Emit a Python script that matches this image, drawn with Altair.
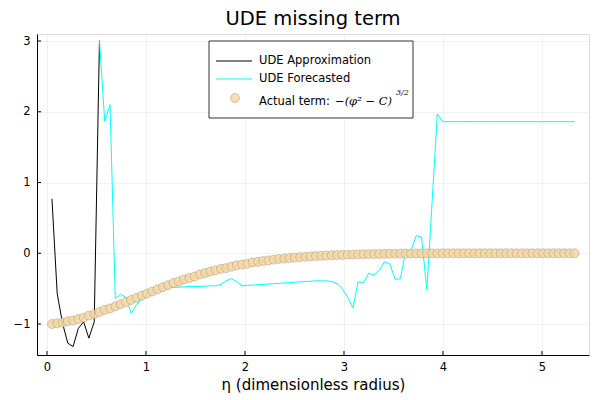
import altair as alt
import pandas as pd

# ---- data ----
eta = [0.050, 0.103, 0.157, 0.210, 0.263, 0.317, 0.370, 0.423, 0.477, 0.530,
       0.583, 0.637, 0.690, 0.743, 0.797, 0.850, 0.903, 0.957, 1.010, 1.063,
       1.117, 1.170, 1.223, 1.277, 1.330, 1.383, 1.437, 1.490, 1.543, 1.597,
       1.650, 1.703, 1.757, 1.810, 1.863, 1.917, 1.970, 2.023, 2.077, 2.130,
       2.183, 2.237, 2.290, 2.343, 2.397, 2.450, 2.503, 2.557, 2.610, 2.663,
       2.717, 2.770, 2.823, 2.877, 2.930, 2.983, 3.037, 3.090, 3.143, 3.197,
       3.250, 3.303, 3.357, 3.410, 3.463, 3.517, 3.570, 3.623, 3.677, 3.730,
       3.783, 3.837, 3.890, 3.943, 3.997, 4.050, 4.103, 4.157, 4.210, 4.263,
       4.317, 4.370, 4.423, 4.477, 4.530, 4.583, 4.637, 4.690, 4.743, 4.797,
       4.850, 4.903, 4.957, 5.010, 5.063, 5.117, 5.170, 5.223, 5.277, 5.330]

actual_term = [-1.00, -0.99, -0.98, -0.96, -0.95, -0.93, -0.91, -0.88, -0.86, -0.83,
               -0.80, -0.78, -0.75, -0.72, -0.69, -0.66, -0.63, -0.60, -0.57, -0.54,
               -0.51, -0.48, -0.45, -0.42, -0.40, -0.37, -0.35, -0.33, -0.30, -0.28,
               -0.26, -0.24, -0.22, -0.21, -0.19, -0.17, -0.16, -0.15, -0.13, -0.12,
               -0.11, -0.10, -0.09, -0.08, -0.075, -0.068, -0.061, -0.055, -0.05, -0.045,
               -0.04, -0.036, -0.032, -0.028, -0.025, -0.023, -0.02, -0.018, -0.016, -0.014,
               -0.012, -0.011, -0.01, -0.008, -0.007, -0.006, -0.005, -0.004, -0.004, -0.003,
               -0.003, -0.002, -0.002, -0.002, -0.001, 0.0, 0.0, 0.0, 0.0, 0.0,
               0.0, 0.0, 0.0, 0.0, 0.0, 0.0, 0.0, 0.0, 0.0, 0.0,
               0.0, 0.0, 0.0, 0.0, 0.0, 0.0, 0.0, 0.0, 0.0, 0.0]

# UDE approximation: first 10 grid points (training range)
ude_approx = [0.77, -0.57, -0.99, -1.27, -1.32, -1.06, -0.97, -1.20, -0.97, 3.01]

# UDE forecast: grid points 9..99
ude_forecast = [3.01, 1.87, 2.10, -0.64, -0.58, -0.62, -0.85, -0.73, -0.64, -0.58,
                -0.55, -0.52, -0.50, -0.49, -0.48, -0.48, -0.475, -0.47, -0.47, -0.47,
                -0.465, -0.46, -0.46, -0.44, -0.39, -0.36, -0.40, -0.46, -0.455, -0.45,
                -0.445, -0.44, -0.435, -0.43, -0.425, -0.42, -0.415, -0.41, -0.405, -0.40,
                -0.395, -0.39, -0.39, -0.39, -0.40, -0.43, -0.50, -0.62, -0.77, -0.40,
                -0.42, -0.28, -0.31, -0.24, -0.12, -0.15, -0.37, -0.36, 0.04, 0.04,
                0.25, 0.23, -0.52, 0.72, 1.97, 1.86, 1.86, 1.86, 1.86, 1.86,
                1.86, 1.86, 1.86, 1.86, 1.86, 1.86, 1.86, 1.86, 1.86, 1.86,
                1.86, 1.86, 1.86, 1.86, 1.86, 1.86, 1.86, 1.86, 1.86, 1.86,
                1.86]

x_ticks = [0, 1, 2, 3, 4, 5]
y_ticks = [-1, 0, 1, 2, 3]

title_text = "UDE missing term"
legend_labels = ["UDE Approximation", "UDE Forecasted", "Actual term:"]

# ---- layout ----
W, H = 552, 321
X_DOM = [-0.101, 5.475]
Y_DOM = [-1.438, 3.099]
FONT = "DejaVu Sans"

xs = alt.Scale(domain=X_DOM, nice=False, zero=False)
ys = alt.Scale(domain=Y_DOM, nice=False, zero=False)

x_axis = alt.Axis(values=x_ticks, format="d", title="η (dimensionless radius)", ticks=False,
                  labelPadding=6, labelFontSize=11.5, labelFont=FONT, labelColor="black",
                  titleFont=FONT, titleFontSize=15, titleFontWeight="normal", titleColor="black",
                  titlePadding=5, domainColor="black", domainWidth=1,
                  grid=True, gridColor="black", gridOpacity=0.1, gridWidth=0.5)
y_axis = alt.Axis(values=y_ticks, format="d", title=None, ticks=False, labelPadding=7,
                  labelFontSize=11.5, labelFont=FONT, labelColor="black",
                  domainColor="black", domainWidth=1,
                  grid=True, gridColor="black", gridOpacity=0.1, gridWidth=0.5)

df_act = pd.DataFrame({"eta": eta, "v": actual_term})
df_apx = pd.DataFrame({"eta": eta[:10], "v": ude_approx})
df_fc = pd.DataFrame({"eta": eta[9:], "v": ude_forecast})

axes_layer = alt.Chart(df_act).mark_point(opacity=0).encode(
    x=alt.X("eta:Q", scale=xs, axis=x_axis),
    y=alt.Y("v:Q", scale=ys, axis=y_axis),
)

xt = alt.Chart(pd.DataFrame({"t": x_ticks})).mark_rule(color="black", strokeWidth=1).encode(
    x=alt.X("t:Q", scale=xs), y=alt.value(H), y2=alt.value(H - 4))
yt = alt.Chart(pd.DataFrame({"t": y_ticks})).mark_rule(color="black", strokeWidth=1).encode(
    y=alt.Y("t:Q", scale=ys), x=alt.value(0), x2=alt.value(4))

apx = alt.Chart(df_apx).mark_line(color="black", strokeWidth=1).encode(
    x=alt.X("eta:Q", scale=xs), y=alt.Y("v:Q", scale=ys))
fc = alt.Chart(df_fc).mark_line(color="#00ffff", strokeWidth=1).encode(
    x=alt.X("eta:Q", scale=xs), y=alt.Y("v:Q", scale=ys))

CIRC_FILL = "#f5d7a5"
CIRC_STROKE = "#9a8466"
act = alt.Chart(df_act).mark_circle(size=80, fill=CIRC_FILL, fillOpacity=0.85,
                                    stroke=CIRC_STROKE, strokeWidth=0.7, strokeOpacity=0.6).encode(
    x=alt.X("eta:Q", scale=xs), y=alt.Y("v:Q", scale=ys))

one = alt.Data(values=[{"a": 1}])

# ---- title ----
title = alt.Chart(one).mark_text(text=title_text, align="center", baseline="middle",
                                 font=FONT, fontSize=19.5, color="black").encode(
    x=alt.value(W / 2), y=alt.value(-15))

# ---- legend (drawn by hand to mix line and marker symbols) ----
box = alt.Chart(one).mark_rect(fill="white", stroke="#333333", strokeWidth=1).encode(
    x=alt.value(172), x2=alt.value(376), y=alt.value(7), y2=alt.value(84))
lg_black = alt.Chart(one).mark_rule(color="black", strokeWidth=1).encode(
    x=alt.value(179), x2=alt.value(215), y=alt.value(27))
lg_cyan = alt.Chart(one).mark_rule(color="#00ffff", strokeWidth=1).encode(
    x=alt.value(179), x2=alt.value(215), y=alt.value(45))
lg_circ = alt.Chart(one).mark_circle(size=80, fill=CIRC_FILL, fillOpacity=0.85,
                                     stroke=CIRC_STROKE, strokeWidth=0.7, strokeOpacity=0.6).encode(
    x=alt.value(198), y=alt.value(64))
lg_t1 = alt.Chart(one).mark_text(text=legend_labels[0], align="left", baseline="middle",
                                 font=FONT, fontSize=11.5, color="black").encode(
    x=alt.value(222), y=alt.value(27))
lg_t2 = alt.Chart(one).mark_text(text=legend_labels[1], align="left", baseline="middle",
                                 font=FONT, fontSize=11.5, color="black").encode(
    x=alt.value(222), y=alt.value(45))
lg_t3 = alt.Chart(one).mark_text(text=legend_labels[2], align="left", baseline="middle",
                                 font=FONT, fontSize=11.5, color="black").encode(
    x=alt.value(222), y=alt.value(68))
lg_math = alt.Chart(one).mark_text(text="−(φ² − C)", align="left", baseline="middle",
                                   font="DejaVu Serif", fontStyle="italic", fontSize=11.5,
                                   color="black").encode(
    x=alt.value(298), y=alt.value(68))
lg_sup = alt.Chart(one).mark_text(text="3/2", align="left", baseline="middle",
                                  font="DejaVu Serif", fontStyle="italic", fontSize=8,
                                  color="black").encode(
    x=alt.value(359), y=alt.value(59))

chart = alt.layer(
    axes_layer, xt, yt, apx, fc, act, title,
    box, lg_black, lg_cyan, lg_circ, lg_t1, lg_t2, lg_t3, lg_math, lg_sup
).properties(
    width=W, height=H,
    autosize=alt.AutoSizeParams(type="none"),
    padding={"left": 29, "top": 26, "right": 3, "bottom": 45},
).configure_view(stroke=None).configure(background="white")

chart.save("out.html", embed_options={"renderer": "svg", "actions": False})
